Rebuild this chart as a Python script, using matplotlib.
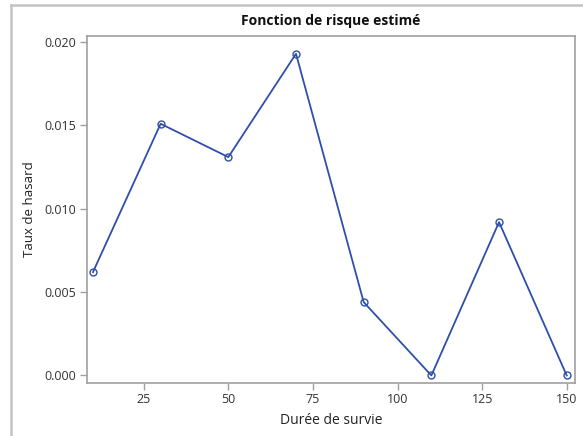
import matplotlib
matplotlib.use("Agg")
import matplotlib.pyplot as plt
from matplotlib.lines import Line2D
from matplotlib.ticker import FormatStrFormatter

# estimated hazard by survival-time interval midpoint
duree = [10, 30, 50, 70, 90, 110, 130, 150]
taux = [0.0062, 0.0151, 0.0131, 0.0193, 0.0044, 0.0, 0.0092, 0.0]
x_ticks = [25, 50, 75, 100, 125, 150]
y_ticks = [0.000, 0.005, 0.010, 0.015, 0.020]

plt.rcParams['font.family'] = ['Open Sans', 'DejaVu Sans']

fig = plt.figure(figsize=(5.83, 4.36), dpi=100)
ax = fig.add_axes([0.149, 0.122, 0.837, 0.796])

line_color = '#2f4fa8'
ax.plot(duree, taux, color=line_color, linewidth=1.3,
        marker='o', markersize=5, markerfacecolor='none',
        markeredgecolor=line_color, markeredgewidth=1.0)

ax.set_xlim(8.2, 152.4)
ax.set_ylim(-0.00044, 0.02038)
ax.set_xticks(x_ticks)
ax.set_yticks(y_ticks)
ax.yaxis.set_major_formatter(FormatStrFormatter('%.3f'))

for s in ax.spines.values():
    s.set_color('#a0a0a0')
    s.set_linewidth(1.2)
ax.tick_params(direction='out', length=5, width=1, color='#a0a0a0',
               labelsize=9, labelcolor='#333333', pad=2.5)

ax.set_title('Fonction de risque estimé', fontsize=10, fontweight='bold',
             color='#111111', pad=8)
ax.set_xlabel('Durée de survie', fontsize=10, color='#222222', labelpad=5)
ax.set_ylabel('Taux de hasard', fontsize=9.5, color='#222222', labelpad=6)

# outer panel border (left and top only)
border = '#c4c4c4'
fig.add_artist(Line2D([11 / 583, 11 / 583], [0, 1 - 5 / 436],
                      transform=fig.transFigure, color=border, linewidth=1.8))
fig.add_artist(Line2D([11 / 583, 1], [1 - 5 / 436, 1 - 5 / 436],
                      transform=fig.transFigure, color=border, linewidth=1.8))

fig.savefig('out.png', dpi=100)
